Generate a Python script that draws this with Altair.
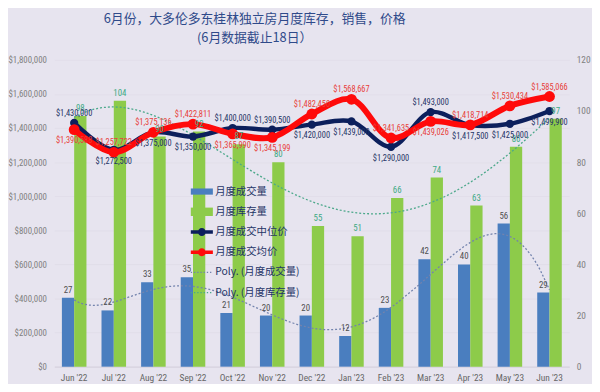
import altair as alt
import pandas as pd

# ---------------- data ----------------
MONTHS = ["Jun '22", "Jul '22", "Aug '22", "Sep '22", "Oct '22", "Nov '22", "Dec '22",
          "Jan '23", "Feb '23", "Mar '23", "Apr '23", "May '23", "Jun '23"]
SALES = [27, 22, 33, 35, 21, 20, 20, 12, 23, 42, 40, 56, 29]
INVENTORY = [98, 104, 90, 92, 87, 80, 55, 51, 66, 74, 63, 86, 97]
MEDIAN = [1430000, 1272500, 1375000, 1350000, 1400000, 1390500, 1420000,
          1439000, 1290000, 1493000, 1417500, 1425000, 1499900]
AVERAGE = [1390588, 1257722, 1375136, 1422811, 1365990, 1345199, 1482450,
           1568667, 1341635, 1439026, 1418714, 1530434, 1585066]

S_SALES = "月度成交量"
S_INV = "月度库存量"
S_MED = "月度成交中位价"
S_AVG = "月度成交均价"
S_TS = "Poly. (月度成交量)"
S_TI = "Poly. (月度库存量)"

# label placement (style)
MED_POS = ["above", "below", "below", "below", "above", "above", "below",
           "below", "below", "above", "below", "below", "below"]
AVG_POS = ["below", "above", "above", "above", "below", "below", "above",
           "above", "above", "below", "above", "above", "above"]

TITLE = ["6月份，大多伦多东桂林独立房月度库存，销售，价格", "(6月数据截止18日）"]

# ---------------- styles ----------------
BG = "#E7E4EF"
BLUE = "#4A7EBF"
GREEN = "#8DCB4A"
NAVY = "#0C1F5C"
RED = "#FF0A0A"
TREND_S = "#7383AD"
TREND_I = "#4BA88A"
FONT = "'Liberation Sans Narrow', 'Roboto Condensed', Lato, sans-serif"
CJK = "Noto Sans CJK SC"

IDX = list(range(1, len(MONTHS) + 1))

bars_df = pd.DataFrame({
    "month": MONTHS * 2,
    "series": [S_SALES] * len(MONTHS) + [S_INV] * len(MONTHS),
    "value": SALES + INVENTORY,
})
price_df = pd.DataFrame({
    "month": MONTHS, "idx": IDX, "median": MEDIAN, "average": AVERAGE,
    "med_pos": MED_POS, "avg_pos": AVG_POS,
})
trend_df = pd.DataFrame({"idx": IDX, "sales": SALES, "inv": INVENTORY})
LEGEND_ITEMS = [S_SALES, S_INV, S_MED, S_AVG, S_TS, S_TI]
legend_df = pd.DataFrame({"series": LEGEND_ITEMS})

XB = alt.Scale(domain=MONTHS, paddingInner=0.38, paddingOuter=0.19)
XQ = alt.Scale(domain=[0.5, len(MONTHS) + 0.5], nice=False, zero=False)
YC = alt.Scale(domain=[0, 120], nice=False)
YP = alt.Scale(domain=[0, 1800000], nice=False)

x_axis = alt.Axis(title=None, labelAngle=0, ticks=False, labelFont=FONT, labelFontSize=9.5,
                  labelColor="#666666", domainColor="#D3D0DC", labelPadding=6)
right_axis = alt.Axis(orient="right", title=None, values=[0, 20, 40, 60, 80, 100, 120],
                      ticks=False, domain=False, grid=False, labelFont=FONT,
                      labelFontSize=9.5, labelColor="#808080", labelPadding=7)
left_axis = alt.Axis(orient="left", title=None, values=list(range(0, 1800001, 200000)),
                     format="$,.0f", ticks=False, domain=False, grid=True,
                     gridColor="#DCD9E5", gridOpacity=0.5, labelFont=FONT,
                     labelFontSize=9, labelColor="#808080", labelPadding=8)

base_bar = alt.Chart(bars_df)
OFFSET = alt.XOffset("series:N", sort=[S_SALES, S_INV],
                     scale=alt.Scale(domain=[S_SALES, S_INV], paddingInner=0, paddingOuter=0))
bars = base_bar.mark_bar().encode(
    x=alt.X("month:N", sort=MONTHS, scale=XB, axis=x_axis),
    xOffset=OFFSET,
    y=alt.Y("value:Q", scale=YC, axis=right_axis),
    color=alt.Color("series:N", scale=alt.Scale(domain=[S_SALES, S_INV], range=[BLUE, GREEN]),
                    legend=None),
)
bar_labels = base_bar.mark_text(dy=-8, font=FONT, fontSize=9).encode(
    x=alt.X("month:N", sort=MONTHS, scale=XB, axis=None),
    xOffset=OFFSET,
    y=alt.Y("value:Q", scale=YC, axis=None),
    text=alt.Text("value:Q"),
    color=alt.Color("series:N", scale=alt.Scale(domain=[S_SALES, S_INV],
                                                range=["#4F4F4F", "#3DAA85"]), legend=None),
)

trend_sales = alt.Chart(trend_df).transform_regression(
    "idx", "sales", method="poly", order=6, extent=[1, len(MONTHS)]
).mark_line(color=TREND_S, strokeWidth=1.3, strokeDash=[2, 2]).encode(
    x=alt.X("idx:Q", scale=XQ, axis=None),
    y=alt.Y("sales:Q", scale=YC, axis=None),
)
trend_inv = alt.Chart(trend_df).transform_regression(
    "idx", "inv", method="poly", order=4, extent=[1, len(MONTHS)]
).mark_line(color=TREND_I, strokeWidth=1.3, strokeDash=[2, 2]).encode(
    x=alt.X("idx:Q", scale=XQ, axis=None),
    y=alt.Y("inv:Q", scale=YC, axis=None),
)

base_p = alt.Chart(price_df)
med_line = base_p.mark_line(color=NAVY, strokeWidth=4.5, interpolate="catmull-rom",
                            point=alt.OverlayMarkDef(filled=True, size=70, color=NAVY)).encode(
    x=alt.X("idx:Q", scale=XQ, axis=None),
    y=alt.Y("median:Q", scale=YP, axis=left_axis),
)
avg_line = base_p.mark_line(color=RED, strokeWidth=6, interpolate="catmull-rom",
                            point=alt.OverlayMarkDef(filled=True, size=120, color=RED)).encode(
    x=alt.X("idx:Q", scale=XQ, axis=None),
    y=alt.Y("average:Q", scale=YP, axis=None),
)


def price_labels(field, posfield, pos, color, dy):
    return base_p.transform_filter(alt.datum[posfield] == pos).mark_text(
        dy=dy, font=FONT, fontSize=8.5, color=color
    ).encode(
        x=alt.X("idx:Q", scale=XQ, axis=None),
        y=alt.Y(f"{field}:Q", scale=YP, axis=None),
        text=alt.Text(f"{field}:Q", format="$,.0f"),
    )


labels = [
    price_labels("median", "med_pos", "above", "#1F3466", -10),
    price_labels("median", "med_pos", "below", "#1F3466", 11),
    price_labels("average", "avg_pos", "above", "#E8403A", -10),
    price_labels("average", "avg_pos", "below", "#E8403A", 11),
]

# custom legend symbols (unit square -1..1)
RECT = "M-1,-0.28H1V0.28H-1Z"
RECT_G = "M-1,-0.38H1V0.38H-1Z"
LINE_DOT = ("M-1,-0.16H-0.33V0.16H-1Z M0.33,-0.16H1V0.16H0.33Z "
            "M-0.36,0A0.36,0.36 0 1,1 0.36,0A0.36,0.36 0 1,1 -0.36,0Z")
DOTS = " ".join(f"M{-1 + k * 0.29:.2f},-0.06h0.12v0.12h-0.12z" for k in range(7))

leg_common = dict(orient="none", legendX=138, legendY=122, title=None, labelFont=CJK,
                  labelFontSize=10.5, labelColor="#1F3466", symbolSize=500,
                  symbolStrokeWidth=0, symbolOpacity=1, rowPadding=3.5, labelOffset=2)
legend_layer = alt.Chart(legend_df).transform_filter("false").mark_point(filled=True).encode(
    color=alt.Color("series:N", sort=None,
                    scale=alt.Scale(domain=LEGEND_ITEMS,
                                    range=[BLUE, GREEN, NAVY, RED, TREND_S, TREND_I]),
                    legend=alt.Legend(**leg_common)),
    shape=alt.Shape("series:N", sort=None,
                    scale=alt.Scale(domain=LEGEND_ITEMS,
                                    range=[RECT, RECT_G, LINE_DOT, LINE_DOT, DOTS, DOTS]),
                    legend=alt.Legend(**leg_common)),
)

chart = alt.layer(
    bars, trend_sales, trend_inv, med_line, avg_line, bar_labels, *labels, legend_layer
).resolve_scale(
    x="independent", y="independent", color="independent", shape="independent"
).properties(
    width=522, height=311,
    autosize=alt.AutoSizeParams(type="none"),
    padding={"left": 47, "top": 50, "right": 23, "bottom": 15},
    background=BG,
    title=alt.Title(TITLE, font=CJK, fontSize=13, fontWeight="normal", color="#2F4A8A",
                    lineHeight=19, anchor="middle", dx=-58, offset=10),
).configure_view(stroke=None)

chart.save("out.html", embed_options={"renderer": "svg", "actions": False})
